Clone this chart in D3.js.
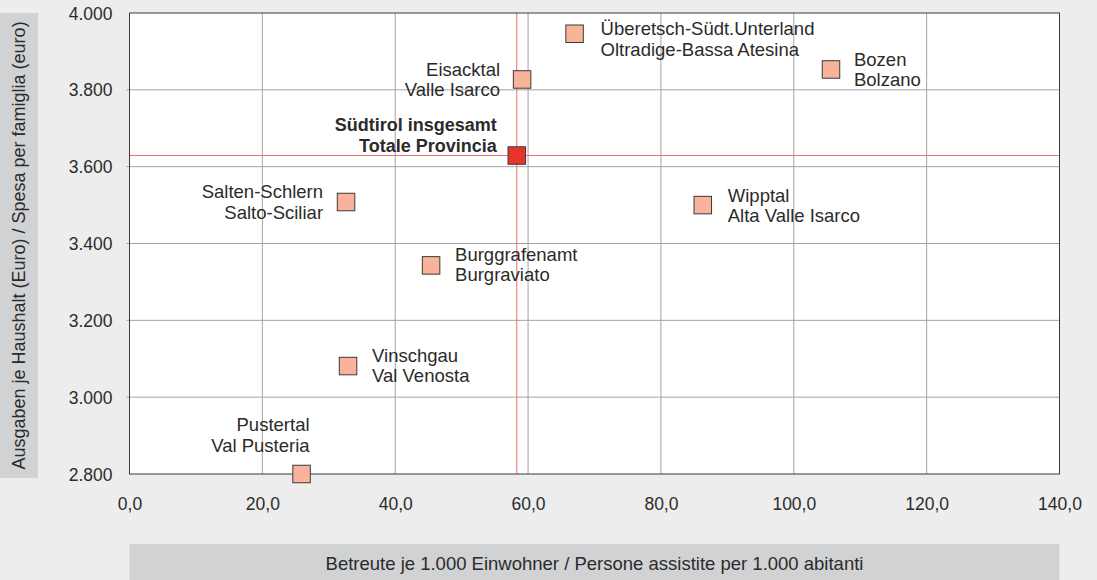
<!DOCTYPE html>
<html><head><meta charset="utf-8">
<script src="https://cdn.jsdelivr.net/npm/d3@7"></script>
<style>
html,body{margin:0;padding:0;background:#ededed;}
svg{display:block;font-family:"Liberation Sans",Arial,sans-serif;}
</style></head>
<body>
<svg id="chart" width="1097" height="580"></svg>
<script>
// ---- data ----
const regionsDe = ["Überetsch-Südt.Unterland","Eisacktal","Bozen","Wipptal","Salten-Schlern","Burggrafenamt","Vinschgau","Pustertal"];
const regionsIt = ["Oltradige-Bassa Atesina","Valle Isarco","Bolzano","Alta Valle Isarco","Salto-Sciliar","Burgraviato","Val Venosta","Val Pusteria"];
const assisted = [67.0, 59.1, 105.6, 86.3, 32.6, 45.4, 32.9, 25.9];   // per 1.000 inhabitants
const spending = [3946, 3827, 3853, 3500, 3508, 3343, 3081, 2800];   // euro per household
const totalLabel = ["Südtirol insgesamt","Totale Provincia"];
const totalAssisted = 58.3;
const totalSpending = 3629;
const xTicks = [0,20,40,60,80,100,120,140];
const yTicks = [2800,3000,3200,3400,3600,3800,4000];
const xTitle = "Betreute je 1.000 Einwohner / Persone assistite per 1.000 abitanti";
const yTitle = "Ausgaben je Haushalt (Euro) / Spesa per famiglia (euro)";

// ---- label placement (layout, not data) ----
const labelLayout = [
  {anchor:"start", dx:26, dy:[1,22]},
  {anchor:"end", dx:-22, dy:[-3,17]},
  {anchor:"start", dx:23, dy:[-3,17]},
  {anchor:"start", dx:25, dy:[-3,17]},
  {anchor:"end", dx:-23, dy:[-4,17]},
  {anchor:"start", dx:24, dy:[-4,16]},
  {anchor:"start", dx:24, dy:[-4,16]},
  {anchor:"end", dx:8, dy:[-43,-22]}
];

const svg = d3.select("#chart");
const W = 1097, H = 580;
const L = 129.5, R = 1059.5, T = 13, B = 474;

const x = d3.scaleLinear().domain([0,140]).range([L,R]);
const y = d3.scaleLinear().domain([2800,4000]).range([B,T]);

const fmtX = v => d3.format(".1f")(v).replace(".", ",");
const fmtY = v => d3.format(",.0f")(v).replace(/,/g, ".");

svg.append("rect").attr("width",W).attr("height",H).attr("fill","#ededed");

// axis title boxes
svg.append("rect").attr("x",0).attr("y",13).attr("width",38).attr("height",465).attr("fill","#d1d2d4");
svg.append("rect").attr("x",L).attr("y",544).attr("width",R-L).attr("height",36).attr("fill","#d1d2d4");
svg.append("text").attr("transform",`translate(25,${(13+478)/2}) rotate(-90)`)
  .attr("text-anchor","middle").attr("font-size",18).attr("fill","#2b2b2b").text(yTitle);
svg.append("text").attr("x",(L+R)/2).attr("y",570).attr("text-anchor","middle")
  .attr("font-size",18.5).attr("fill","#2b2b2b").text(xTitle);

// plot area
svg.append("rect").attr("x",L).attr("y",T).attr("width",R-L).attr("height",B-T).attr("fill","#ffffff");

// grid lines
const grid = svg.append("g");
grid.selectAll("line.vx").data(xTicks.filter(v=>v>0 && v<140)).enter().append("line")
  .attr("x1",d=>x(d)).attr("x2",d=>x(d)).attr("y1",T).attr("y2",B)
  .attr("stroke","#a3a3a3").attr("stroke-width",1);
grid.selectAll("line.hy").data(yTicks.filter(v=>v>2800 && v<4000)).enter().append("line")
  .attr("x1",L-3).attr("x2",R).attr("y1",d=>y(d)).attr("y2",d=>y(d))
  .attr("stroke","#a3a3a3").attr("stroke-width",1);

// reference lines (total)
svg.append("line").attr("x1",x(totalAssisted)).attr("x2",x(totalAssisted)).attr("y1",T).attr("y2",B)
  .attr("stroke","#ec6f6a").attr("stroke-width",1);
svg.append("line").attr("x1",L).attr("x2",R).attr("y1",y(totalSpending)).attr("y2",y(totalSpending))
  .attr("stroke","#ec6f6a").attr("stroke-width",1);

// border
svg.append("rect").attr("x",L).attr("y",T).attr("width",R-L).attr("height",B-T)
  .attr("fill","none").attr("stroke","#3a3a3a").attr("stroke-width",1);

// axes
const xAxis = d3.axisBottom(x).tickValues(xTicks).tickFormat(fmtX).tickSize(0).tickPadding(0);
const gx = svg.append("g").attr("transform",`translate(0,${B})`).call(xAxis);
gx.select(".domain").remove();
gx.selectAll("text").attr("y",36).attr("dy",0).attr("font-size",17.5)
  .attr("font-family","Liberation Sans, Arial, sans-serif").attr("fill","#2b2b2b");

const yAxis = d3.axisLeft(y).tickValues(yTicks).tickFormat(fmtY).tickSize(0).tickPadding(0);
const gy = svg.append("g").attr("transform",`translate(${L},0)`).call(yAxis);
gy.select(".domain").remove();
gy.selectAll("text").attr("x",-17).attr("dy","0.35em").attr("font-size",17.5)
  .attr("font-family","Liberation Sans, Arial, sans-serif").attr("fill","#2b2b2b");

// points
const S = 17.5;
const pts = regionsDe.map((d,i)=>({de:d,it:regionsIt[i],xv:assisted[i],yv:spending[i],lay:labelLayout[i]}));
const g = svg.append("g");
g.selectAll("rect.pt").data(pts).enter().append("rect")
  .attr("x",d=>x(d.xv)-S/2).attr("y",d=>y(d.yv)-S/2).attr("width",S).attr("height",S)
  .attr("fill","#f9b39b").attr("stroke","#3a3a3a").attr("stroke-width",1);

const lbl = g.selectAll("text.lbl").data(pts).enter().append("text")
  .attr("font-size",18.5).attr("fill","#2b2b2b").attr("text-anchor",d=>d.lay.anchor);
lbl.append("tspan").attr("x",d=>x(d.xv)+d.lay.dx).attr("y",d=>y(d.yv)+d.lay.dy[0]).text(d=>d.de);
lbl.append("tspan").attr("x",d=>x(d.xv)+d.lay.dx).attr("y",d=>y(d.yv)+d.lay.dy[1]).text(d=>d.it);

// total point
g.append("rect").attr("x",x(totalAssisted)-S/2).attr("y",y(totalSpending)-S/2).attr("width",S).attr("height",S)
  .attr("fill","#e8332b").attr("stroke","#3a3a3a").attr("stroke-width",1);
const tl = g.append("text").attr("font-size",18).attr("font-weight","bold").attr("fill","#2b2b2b").attr("text-anchor","end");
tl.append("tspan").attr("x",x(totalAssisted)-20).attr("y",y(totalSpending)-25).text(totalLabel[0]);
tl.append("tspan").attr("x",x(totalAssisted)-20).attr("y",y(totalSpending)-4).text(totalLabel[1]);
</script>
</body></html>
